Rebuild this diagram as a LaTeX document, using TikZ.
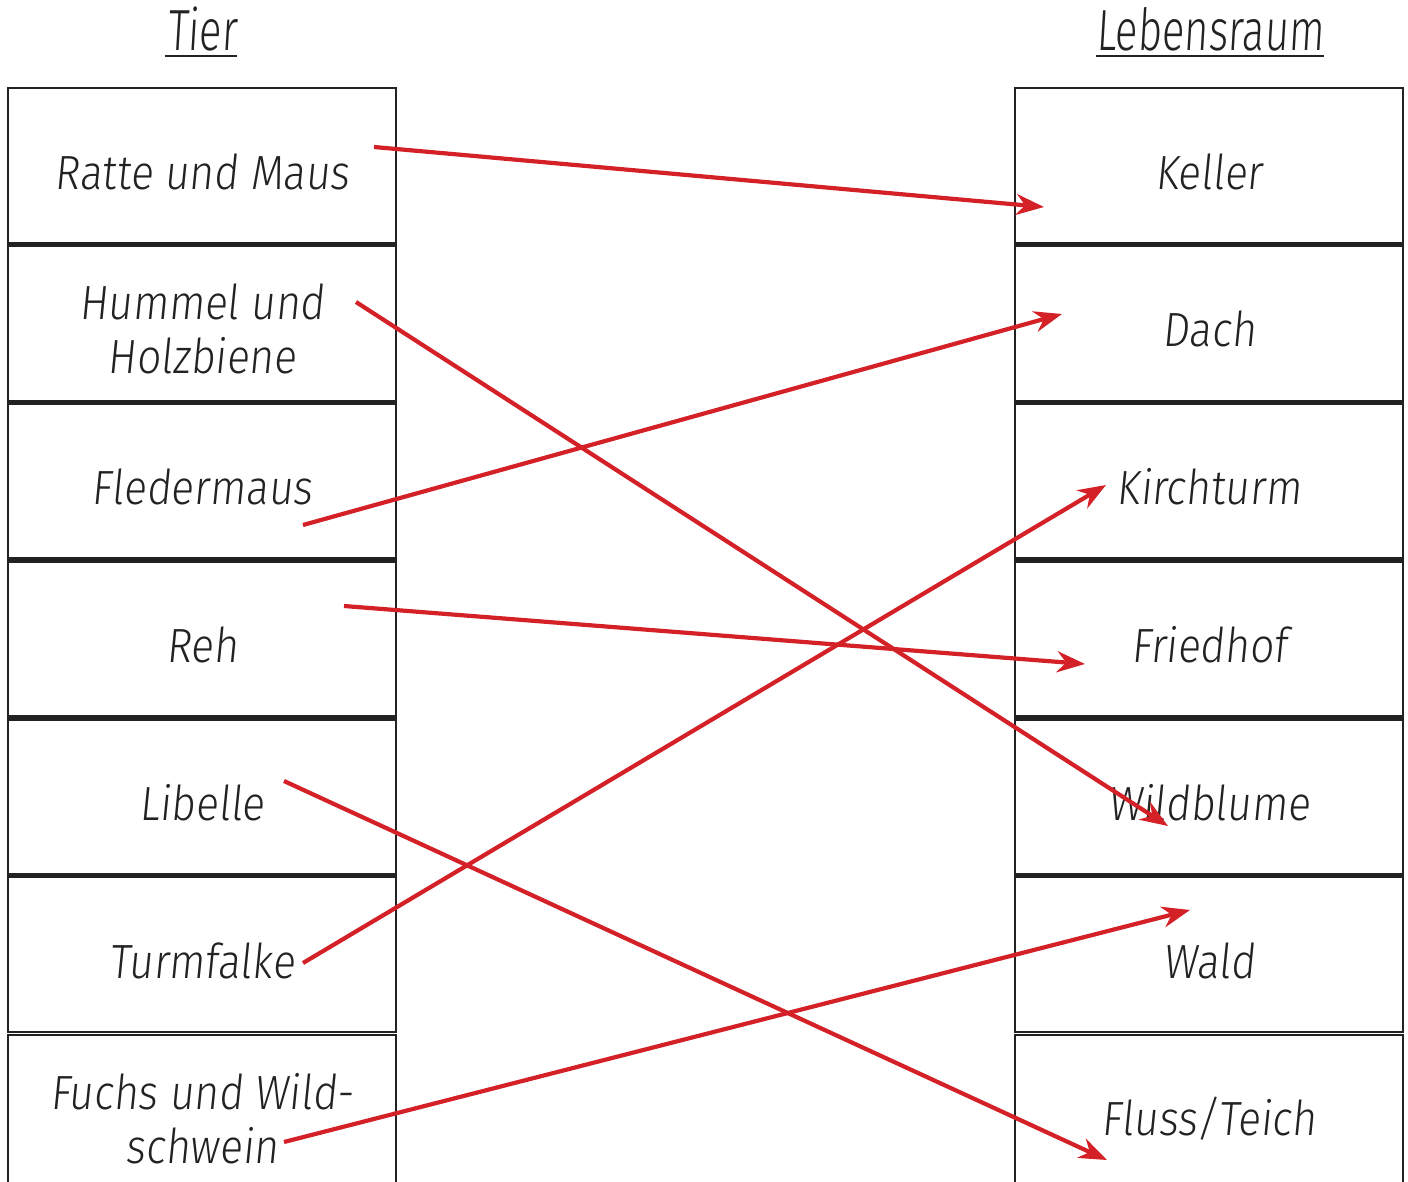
\documentclass[tikz,border=0pt]{standalone}
\usepackage{fontspec}
\setmainfont{Fira Sans Light}[FakeSlant=0.1,FakeStretch=0.88]
\newfontfamily\headfont{Fira Sans Light}[FakeSlant=0.06,FakeStretch=0.72]
\usetikzlibrary{arrows.meta,calc}
\definecolor{linered}{HTML}{D42128}
\definecolor{boxline}{HTML}{222222}
\begin{document}
\begin{tikzpicture}[x=0.5pt,y=-0.5pt,
  cell/.style={draw=boxline,line width=1.3pt,minimum width=194pt,minimum height=77.5pt,inner sep=0pt},
  txt/.style={inner sep=0pt,align=center,font=\fontsize{24}{27}\selectfont,text=boxline},
  head/.style={inner sep=0pt,anchor=base,font=\headfont\fontsize{29}{30}\selectfont,text=boxline},
  arr/.style={draw=linered,line width=2.1pt,-{Stealth[length=14pt,width=10.5pt]}}]
\useasboundingbox (0,0) rectangle (1408,1182);
\clip (0,0) rectangle (1408,1182);
% headers
\node[head] (hT) at (202,51) {Tier};
\node[head] (hL) at (1210,51) {Lebensraum};
\draw[boxline,line width=1pt] ($(hT.base west)+(-2,5)$) -- ($(hT.base east)+(0,5)$);
\draw[boxline,line width=1pt] ($(hL.base west)+(0,5)$) -- ($(hL.base east)+(0,5)$);
% left column boxes
\node[cell] (l1) at (202,165.5) {};
\node[cell] (l2) at (202,323.3) {};
\node[cell] (l3) at (202,481.1) {};
\node[cell] (l4) at (202,638.9) {};
\node[cell] (l5) at (202,796.7) {};
\node[cell] (l6) at (202,954.5) {};
\node[cell] (l7) at (202,1112.3) {};
% right column boxes
\node[cell] (r1) at (1209,165.5) {};
\node[cell] (r2) at (1209,323.3) {};
\node[cell] (r3) at (1209,481.1) {};
\node[cell] (r4) at (1209,638.9) {};
\node[cell] (r5) at (1209,796.7) {};
\node[cell] (r6) at (1209,954.5) {};
\node[cell] (r7) at (1209,1112.3) {};
% texts
\node[txt] (tl1) at ($(l1)+(0,6)$) {Ratte und Maus};
\node[txt] (tl2) at ($(l2)+(0,6)$) {Hummel und\\Holzbiene};
\node[txt] (tl3) at ($(l3)+(0,6)$) {Fledermaus};
\node[txt] (tl4) at ($(l4)+(0,6)$) {Reh};
\node[txt] (tl5) at ($(l5)+(0,6)$) {Libelle};
\node[txt] (tl6) at ($(l6)+(0,6)$) {Turmfalke};
\node[txt] (tl7) at ($(l7)+(0,6)$) {Fuchs und Wild-\\schwein};
\node[txt] (tr1) at ($(r1)+(0,6)$) {Keller};
\node[txt] (tr2) at ($(r2)+(0,6)$) {Dach};
\node[txt] (tr3) at ($(r3)+(0,6)$) {Kirchturm};
\node[txt] (tr4) at ($(r4)+(0,6)$) {Friedhof};
\node[txt] (tr5) at ($(r5)+(0,6)$) {Wildblume};
\node[txt] (tr6) at ($(r6)+(0,6)$) {Wald};
\node[txt] (tr7) at ($(r7)+(0,6)$) {Fluss/Teich};
% arrow end points
\coordinate (s1) at (374,147);   \coordinate (e1) at (1044,207);
\coordinate (s2) at (356,302);   \coordinate (e2) at (1168,826);
\coordinate (s3) at (303,525);   \coordinate (e3) at (1062,314);
\coordinate (s4) at (344,606);   \coordinate (e4) at (1085,664);
\coordinate (s5) at (284,781);   \coordinate (e5) at (1107,1160);
\coordinate (s6) at (303,963);   \coordinate (e6) at (1106,485);
\coordinate (s7) at (284,1142);  \coordinate (e7) at (1190,910);
\draw[arr] (s1) -- (e1);
\draw[arr] (s2) -- (e2);
\draw[arr] (s3) -- (e3);
\draw[arr] (s4) -- (e4);
\draw[arr] (s5) -- (e5);
\draw[arr] (s6) -- (e6);
\draw[arr] (s7) -- (e7);
\end{tikzpicture}
\end{document}
